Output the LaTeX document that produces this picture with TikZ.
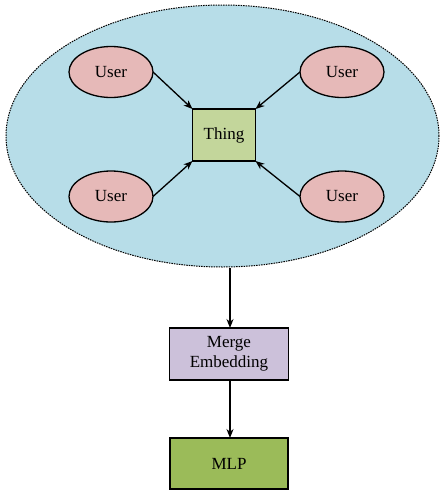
\documentclass[tikz,border=0pt]{standalone}
\usepackage{fontspec}
\setmainfont{Liberation Serif}
\usetikzlibrary{arrows.meta,shapes.geometric}
\definecolor{bigblue}{HTML}{B7DDE8}
\definecolor{userpink}{HTML}{E6B9B8}
\definecolor{thinggreen}{HTML}{C3D69B}
\definecolor{mergepurple}{HTML}{CCC1DA}
\definecolor{mlpgreen}{HTML}{9BBB59}
\begin{document}
\begin{tikzpicture}[x=1pt,y=-1pt,
  every node/.style={font=\fontsize{17}{20}\selectfont, inner sep=0pt, outer sep=0pt},
  userell/.style={ellipse, draw, line width=1.3pt, fill=userpink, minimum width=84pt, minimum height=51pt},
  boxnode/.style={rectangle, draw, line width=1.3pt, align=center},
  conn/.style={-{Stealth[length=9pt,width=7pt]}, line width=1.3pt}]
\useasboundingbox (0,0) rectangle (440,490);
\node[ellipse, draw, fill=bigblue, line width=1pt, dash pattern=on 1.5pt off 1pt, minimum width=433pt, minimum height=262pt] (cloud) at (222.5,136) {};
\node[userell] (u1) at (111,72) {User};
\node[userell] (u2) at (342,72) {User};
\node[userell] (u3) at (111,196.5) {User};
\node[userell] (u4) at (342,196.5) {User};
\node[boxnode, fill=thinggreen, minimum width=63pt, minimum height=52pt] (thing) at (224,135) {Thing};
\node[boxnode, fill=mergepurple, minimum width=119pt, minimum height=52pt] (merge) at (229,354) {Merge\\Embedding};
\node[boxnode, fill=mlpgreen, minimum width=118pt, minimum height=51pt] (mlp) at (229,463.5) {MLP};
\draw[conn] (u1.east) -- (thing.north west);
\draw[conn] (u2.west) -- (thing.north east);
\draw[conn] (u3.east) -- (thing.south west);
\draw[conn] (u4.west) -- (thing.south east);
\coordinate (c1) at (230,267.5);
\draw[conn] (c1) -- (c1 |- merge.north);
\draw[conn] (c1 |- merge.south) -- (c1 |- mlp.north);
\end{tikzpicture}
\end{document}
